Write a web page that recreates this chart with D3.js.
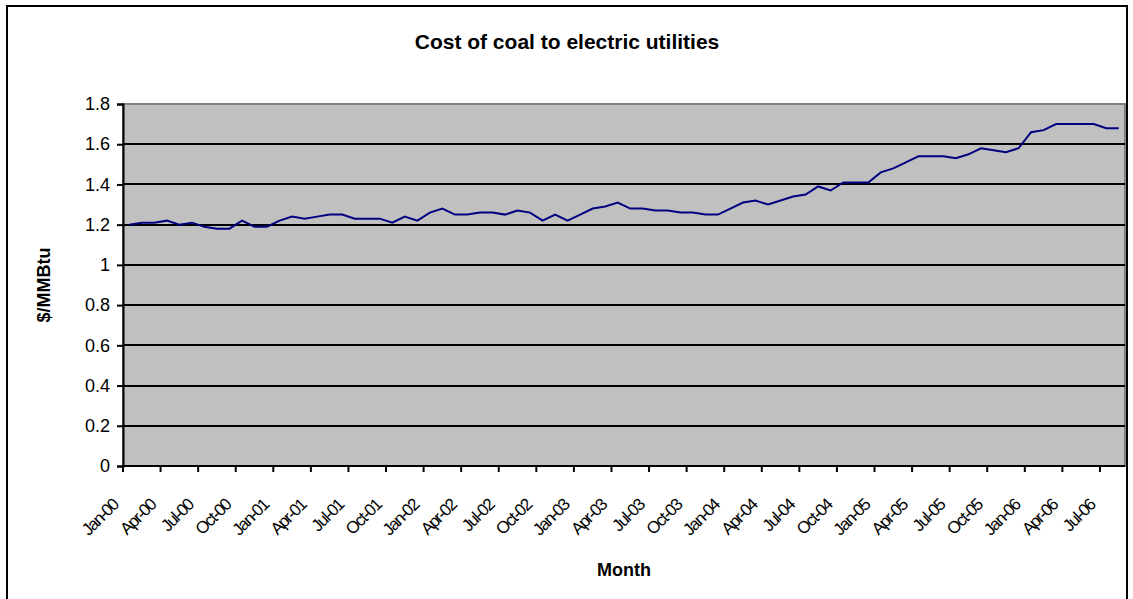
<!DOCTYPE html>
<html>
<head>
<meta charset="utf-8">
<script src="https://cdn.jsdelivr.net/npm/d3@7"></script>
<style>
  body { margin: 0; background: #fff; }
  text { font-family: "Liberation Sans", Arial, sans-serif; }
</style>
</head>
<body>
<div id="chart"></div>
<script>
// Chart data
var monthNames = ["Jan", "Feb", "Mar", "Apr", "May", "Jun", "Jul", "Aug", "Sep", "Oct", "Nov", "Dec"];
var years = ["00", "01", "02", "03", "04", "05", "06"];

// $/MMBtu, Jan-00 .. Aug-06
var coalCost = [
    1.20, 1.21, 1.21, 1.22, 1.20, 1.21, 1.19, 1.18, 1.18, 1.22, 1.19, 1.19,
    1.22, 1.24, 1.23, 1.24, 1.25, 1.25, 1.23, 1.23, 1.23, 1.21, 1.24, 1.22,
    1.26, 1.28, 1.25, 1.25, 1.26, 1.26, 1.25, 1.27, 1.26, 1.22, 1.25, 1.22,
    1.25, 1.28, 1.29, 1.31, 1.28, 1.28, 1.27, 1.27, 1.26, 1.26, 1.25, 1.25,
    1.28, 1.31, 1.32, 1.30, 1.32, 1.34, 1.35, 1.39, 1.37, 1.41, 1.41, 1.41,
    1.46, 1.48, 1.51, 1.54, 1.54, 1.54, 1.53, 1.55, 1.58, 1.57, 1.56, 1.58,
    1.66, 1.67, 1.70, 1.70, 1.70, 1.70, 1.68, 1.68
];

var yTicks = [0, 0.2, 0.4, 0.6, 0.8, 1, 1.2, 1.4, 1.6, 1.8];

// month labels
var months = [];
years.forEach(function(yr){
    monthNames.forEach(function(m){
        months.push(m + "-" + yr);
    });
});
months = months.slice(0, coalCost.length);

var data = months.map(function(m, i){
    return { month: m, value: coalCost[i] };
});

// Set chart parameters
var svgWidth = 1133;
var svgHeight = 599;

var plot = { left: 123, top: 104, right: 1125, bottom: 466 };

var svg = d3.select("#chart")
    .append("svg")
    .attr("width", svgWidth)
    .attr("height", svgHeight);

// outer frame
svg.append("rect")
    .attr("x", 7)
    .attr("y", 6)
    .attr("width", 1120)
    .attr("height", 620)
    .attr("fill", "none")
    .attr("stroke", "#000")
    .attr("stroke-width", 2);

// scales
var xScale = d3.scaleBand()
    .domain(months)
    .range([plot.left, plot.right])
    .paddingInner(0)
    .paddingOuter(0);

var yScale = d3.scaleLinear()
    .domain([0, 1.8])
    .range([plot.bottom, plot.top]);

// plot area
svg.append("rect")
    .attr("x", plot.left)
    .attr("y", plot.top)
    .attr("width", plot.right - plot.left)
    .attr("height", plot.bottom - plot.top)
    .attr("fill", "#c0c0c0")
    .attr("stroke", "#808080")
    .attr("stroke-width", 2);

// gridlines
svg.append("g")
    .selectAll("line")
    .data(yTicks.filter(d => d > 0 && d < 1.8))
    .enter()
    .append("line")
    .attr("x1", plot.left)
    .attr("x2", plot.right)
    .attr("y1", d => Math.round(yScale(d)))
    .attr("y2", d => Math.round(yScale(d)))
    .attr("stroke", "#000")
    .attr("stroke-width", 2);

// y axis
var leftAxis = d3.axisLeft(yScale)
    .tickValues(yTicks)
    .tickSize(6)
    .tickPadding(7)
    .tickFormat(d3.format("~g"));

var yAxisG = svg.append("g")
    .attr("transform", `translate(${plot.left}, 0)`)
    .call(leftAxis);

yAxisG.select(".domain").attr("stroke", "#000").attr("stroke-width", 2);
yAxisG.selectAll(".tick line").attr("stroke", "#000").attr("stroke-width", 2);
yAxisG.selectAll(".tick text")
    .attr("font-size", "18px")
    .attr("fill", "#000")
    .style("font-family", "'Liberation Sans', Arial, sans-serif");

// x axis: ticks every third month on category boundaries
var tickMonths = months.filter((m, i) => i % 3 === 0);

var bottomAxis = d3.axisBottom(xScale)
    .tickValues(tickMonths)
    .tickSize(6)
    .tickSizeOuter(0)
    .tickFormat("");

var xAxisG = svg.append("g")
    .attr("transform", `translate(${-xScale.bandwidth() / 2}, ${plot.bottom})`)
    .call(bottomAxis);

xAxisG.select(".domain").remove();
xAxisG.selectAll(".tick line").attr("stroke", "#000").attr("stroke-width", 2);

svg.append("line")
    .attr("x1", plot.left)
    .attr("x2", plot.right)
    .attr("y1", plot.bottom)
    .attr("y2", plot.bottom)
    .attr("stroke", "#000")
    .attr("stroke-width", 2);

// rotated tick labels
svg.append("g")
    .selectAll("text")
    .data(tickMonths)
    .enter()
    .append("text")
    .attr("transform", d => `translate(${xScale(d) + xScale.bandwidth() / 2 - 10}, ${plot.bottom + 40}) rotate(-45)`)
    .attr("text-anchor", "end")
    .attr("font-size", "17px")
    .attr("letter-spacing", "-1.5px")
    .attr("fill", "#000")
    .text(d => d);

// the line
var line = d3.line()
    .x(d => xScale(d.month) + xScale.bandwidth() / 2)
    .y(d => yScale(d.value));

svg.append("path")
    .datum(data)
    .attr("d", line)
    .attr("fill", "none")
    .attr("stroke", "#000080")
    .attr("stroke-width", 2);

// title and axis labels
svg.append("text")
    .attr("x", 567)
    .attr("y", 49)
    .attr("text-anchor", "middle")
    .attr("font-size", "21px")
    .attr("font-weight", "bold")
    .text("Cost of coal to electric utilities");

svg.append("text")
    .attr("transform", `translate(50, ${(plot.top + plot.bottom) / 2}) rotate(-90)`)
    .attr("text-anchor", "middle")
    .attr("font-size", "18px")
    .attr("font-weight", "bold")
    .text("$/MMBtu");

svg.append("text")
    .attr("x", (plot.left + plot.right) / 2)
    .attr("y", 576)
    .attr("text-anchor", "middle")
    .attr("font-size", "18px")
    .attr("font-weight", "bold")
    .text("Month");
</script>
</body>
</html>
